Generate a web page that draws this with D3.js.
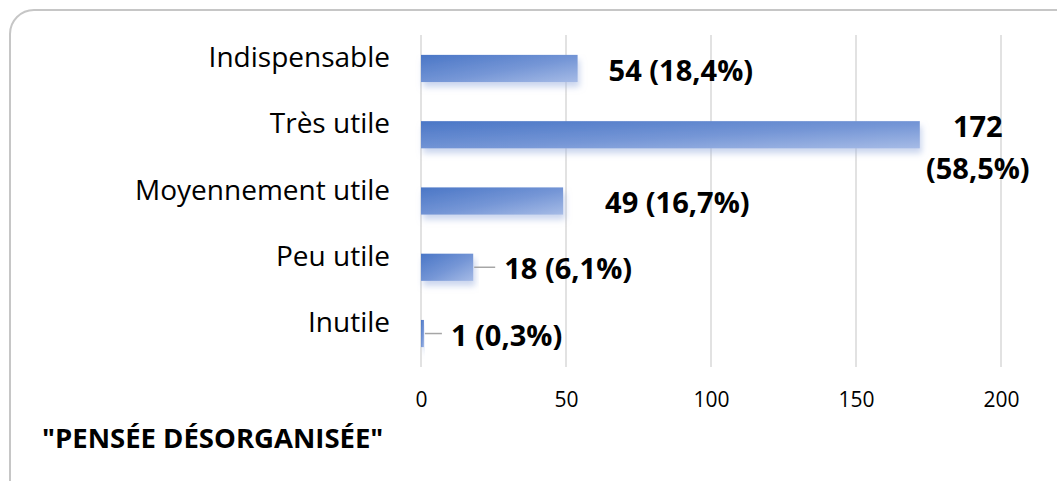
<!DOCTYPE html>
<html>
<head>
<meta charset="utf-8">
<script src="https://cdn.jsdelivr.net/npm/d3@7"></script>
<style>
  html, body { margin: 0; padding: 0; background: #fff; width: 1057px; height: 481px; overflow: hidden; }
  svg { display: block; font-family: "Open Sans", "Noto Sans", sans-serif; }
</style>
</head>
<body>
<svg id="chart"></svg>
<script>
const width = 1057;
const height = 481;

// data
const categories = ["Indispensable", "Très utile", "Moyennement utile", "Peu utile", "Inutile"];
const counts = [54, 172, 49, 18, 1];
const percents = ["18,4%", "58,5%", "16,7%", "6,1%", "0,3%"];
const ticks = [0, 50, 100, 150, 200];
const title = "\"PENSÉE DÉSORGANISÉE\"";

const svg = d3.select("#chart")
  .attr("viewBox", `0 0 ${width} ${height}`)
  .attr("width", width)
  .attr("height", height);

// outer rounded frame: only the top and left edges are visible in the crop
const r = 24;
svg.append("path")
  .attr("d", `M10,${height} L10,${10 + r} A${r},${r} 0 0 1 ${10 + r},10 L${width},10`)
  .attr("fill", "none")
  .attr("stroke", "#c6c6c6")
  .attr("stroke-width", 2);

const defs = svg.append("defs");

// bar fill: blue with a lighter diagonal sheen
const grad = defs.append("linearGradient")
  .attr("id", "barGrad")
  .attr("x1", "0").attr("y1", "0")
  .attr("x2", "1").attr("y2", "1");
grad.append("stop").attr("offset", "0%").attr("stop-color", "#4a76c6");
grad.append("stop").attr("offset", "55%").attr("stop-color", "#7596d6");
grad.append("stop").attr("offset", "100%").attr("stop-color", "#a6bbe6");

const shadow = defs.append("filter")
  .attr("id", "shadow")
  .attr("x", "-10%").attr("y", "-20%")
  .attr("width", "120%").attr("height", "180%");
shadow.append("feGaussianBlur").attr("in", "SourceAlpha").attr("stdDeviation", 3);
shadow.append("feOffset").attr("dx", 2).attr("dy", 5).attr("result", "blur");
shadow.append("feFlood").attr("flood-color", "#9fb3e0").attr("flood-opacity", 0.55);
shadow.append("feComposite").attr("in2", "blur").attr("operator", "in");
const merge = shadow.append("feMerge");
merge.append("feMergeNode");
merge.append("feMergeNode").attr("in", "SourceGraphic");

const margin = { top: 35, left: 421, right: 56, bottom: 114 };
const innerWidth = width - margin.left - margin.right;   // 580
const innerHeight = height - margin.top - margin.bottom; // 332

const x = d3.scaleLinear().domain([0, 200]).range([0, innerWidth]);
const y = d3.scaleBand().domain(categories).range([0, innerHeight]).paddingInner(0.59).paddingOuter(0.3);

const g = svg.append("g").attr("transform", `translate(${margin.left},${margin.top})`);

// gridlines
g.selectAll(".grid")
  .data(ticks)
  .enter()
  .append("line")
  .attr("x1", d => x(d)).attr("x2", d => x(d))
  .attr("y1", 0).attr("y2", innerHeight)
  .attr("stroke", "#d9d9d9")
  .attr("stroke-width", 1.5);

// x axis labels
const xAxisG = g.append("g")
  .attr("transform", `translate(0,${innerHeight})`)
  .call(d3.axisBottom(x).tickValues(ticks).tickSize(0).tickPadding(25));
xAxisG.select(".domain").remove();
xAxisG.selectAll("text")
  .attr("font-size", 21)
  .attr("font-family", "Open Sans, sans-serif")
  .attr("fill", "#000");

// category labels
const yAxisG = g.append("g")
  .call(d3.axisLeft(y).tickSize(0).tickPadding(31));
yAxisG.select(".domain").remove();
yAxisG.selectAll("text")
  .attr("font-size", 28)
  .attr("font-family", "Open Sans, sans-serif")
  .attr("fill", "#000")
  .attr("dy", "-0.05em");

// bars
g.selectAll(".bar")
  .data(counts)
  .enter()
  .append("rect")
  .attr("class", "bar")
  .attr("x", x(0))
  .attr("y", (d, i) => y(categories[i]))
  .attr("width", d => Math.max(x(d) - x(0), 3))
  .attr("height", y.bandwidth())
  .attr("fill", "url(#barGrad)")
  .attr("filter", "url(#shadow)");

// data labels
const labelFont = 29;
const labelGap = [31, 0, 42];
counts.forEach((d, i) => {
  const cy = y(categories[i]) + y.bandwidth() / 2;
  const label = `${d} (${percents[i]})`;
  if (i === 1) {
    // long bar: label wraps to two lines at the right
    const t = g.append("text")
      .attr("x", x(192))
      .attr("y", cy)
      .attr("text-anchor", "middle")
      .attr("font-size", labelFont)
      .attr("font-weight", "bold")
      .attr("fill", "#000");
    t.append("tspan").attr("x", x(192)).attr("dy", "0.08em").text(`${d}`);
    t.append("tspan").attr("x", x(192)).attr("dy", "1.45em").text(`(${percents[i]})`);
    return;
  }
  let lx = x(d) + labelGap[i];
  if (d < 30) {
    // short bars get a small leader line
    const lead = i === 3 ? 22 : 18;
    g.append("line")
      .attr("x1", x(d) + 1).attr("x2", x(d) + lead)
      .attr("y1", cy).attr("y2", cy)
      .attr("stroke", "#a6a6a6")
      .attr("stroke-width", 1.5);
    lx = x(d) + lead + 9;
  }
  g.append("text")
    .attr("x", lx)
    .attr("y", cy + 2)
    .attr("dy", "0.35em")
    .attr("font-size", labelFont)
    .attr("font-weight", "bold")
    .attr("fill", "#000")
    .text(label);
});

// title at bottom left
svg.append("text")
  .attr("x", 42)
  .attr("y", 448)
  .attr("font-size", 27.5)
  .attr("font-weight", "bold")
  .attr("fill", "#000")
  .text(title);
</script>
</body>
</html>
